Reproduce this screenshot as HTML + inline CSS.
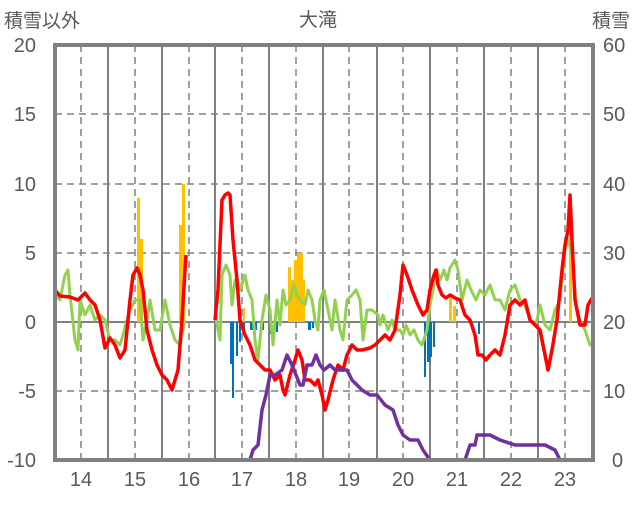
<!DOCTYPE html><html><head><meta charset="utf-8"><style>body{margin:0;background:#fff}</style></head><body>
<svg width="636" height="501" viewBox="0 0 636 501" xmlns="http://www.w3.org/2000/svg" font-family="Liberation Sans, Noto Sans CJK JP, sans-serif">
<rect width="636" height="501" fill="#fff"/>
<g stroke="#808080" stroke-width="1.5" stroke-dasharray="7,5">
<line x1="55" x2="593" y1="114" y2="114"/><line x1="55" x2="593" y1="184" y2="184"/><line x1="55" x2="593" y1="253" y2="253"/><line x1="55" x2="593" y1="391" y2="391"/>
<line x1="81" x2="81" y1="45" y2="460"/><line x1="135" x2="135" y1="45" y2="460"/><line x1="189" x2="189" y1="45" y2="460"/><line x1="242" x2="242" y1="45" y2="460"/><line x1="296" x2="296" y1="45" y2="460"/><line x1="349" x2="349" y1="45" y2="460"/><line x1="403" x2="403" y1="45" y2="460"/><line x1="457" x2="457" y1="45" y2="460"/><line x1="511" x2="511" y1="45" y2="460"/><line x1="565" x2="565" y1="45" y2="460"/>
</g>
<g stroke="#808080" stroke-width="2">
<line x1="108" x2="108" y1="45" y2="460"/><line x1="162" x2="162" y1="45" y2="460"/><line x1="215" x2="215" y1="45" y2="460"/><line x1="269" x2="269" y1="45" y2="460"/><line x1="323" x2="323" y1="45" y2="460"/><line x1="377" x2="377" y1="45" y2="460"/><line x1="430" x2="430" y1="45" y2="460"/><line x1="484" x2="484" y1="45" y2="460"/><line x1="538" x2="538" y1="45" y2="460"/>
<line x1="55" x2="593" y1="322" y2="322"/>
</g>
<g fill="#FFC000">
<rect x="137" y="198" width="3" height="124"/><rect x="140" y="239" width="3" height="83"/>
<rect x="179" y="225" width="3" height="97"/><rect x="182" y="184" width="3" height="138"/>
<rect x="288" y="267" width="3" height="55"/><rect x="291" y="280" width="3" height="42"/><rect x="294" y="260" width="3" height="62"/><rect x="297" y="253" width="3" height="69"/><rect x="300" y="253" width="3" height="69"/><rect x="303" y="280" width="2" height="42"/>
<rect x="243" y="308" width="2" height="14"/><rect x="449" y="298" width="3" height="24"/><rect x="453" y="306" width="3" height="16"/><rect x="569" y="198" width="3" height="124"/>
</g>
<g fill="#0070C0">
<rect x="230" y="322" width="3" height="42"/><rect x="232" y="322" width="2" height="76"/><rect x="236" y="322" width="2" height="34"/><rect x="239" y="322" width="2" height="20"/><rect x="243" y="322" width="2" height="10"/><rect x="250" y="322" width="3" height="8"/><rect x="255" y="322" width="2" height="8"/><rect x="262" y="322" width="2" height="8"/><rect x="270" y="322" width="2" height="12"/><rect x="276" y="322" width="2" height="10"/><rect x="308" y="322" width="3" height="8"/><rect x="312" y="322" width="2" height="6"/>
<rect x="424" y="322" width="2" height="55"/><rect x="427" y="322" width="3" height="40"/><rect x="430" y="322" width="2" height="35"/><rect x="433" y="322" width="2" height="25"/><rect x="478" y="322" width="2" height="12"/>
</g>
<g fill="none" stroke-width="3.5" stroke-linejoin="round">
<polyline stroke="#92D050" stroke-width="3" points="55,295 60,300 65,275 68,270 70,295 75,340 78,350 80,300 85,315 90,305 95,320 100,315 105,320 110,340 115,340 120,345 123,335 127,320 130,310 135,300 140,300 143,340 147,320 150,300 155,330 160,330 165,300 170,325 175,340 180,345 185,320"/>
<polyline stroke="#92D050" stroke-width="3" points="215,310 218,330 220,340 222,275 226,265 230,275 232,305 235,280 240,290 245,275 248,290 252,300 255,340 258,360 262,320 266,295 270,310 273,345 277,300 280,325 283,290 286,305 290,300 294,285 297,295 300,300 305,305 308,290 312,300 315,320 318,330 320,300 324,290 328,310 332,330 335,300 340,330 343,340 347,300 352,295 356,290 360,300 363,340 367,310 372,310 378,315 380,325 383,315 388,330 392,320 395,330 400,330 403,335 406,325 410,335 414,330 418,340 422,345 427,330 430,305 434,285 437,270 440,280 444,270 447,280 450,268 455,260 458,270 462,300 467,280 471,290 476,300 480,290 485,295 490,285 495,300 500,300 505,310 510,290 515,285 520,300 525,305 530,320 536,325 540,305 545,325 550,330 555,310 560,300 565,250 568,240 572,255 576,305 580,320 585,330 590,345 593,345"/>
<polyline stroke="#FF0000" points="55,290 60,296 70,297 78,300 85,293 90,300 95,305 100,320 105,348 110,338 115,345 120,358 125,350 130,300 133,275 137,268 140,275 143,290 147,330 152,350 157,365 162,375 167,380 172,390 178,370 182,320 185,270 186,255"/>
<polyline stroke="#FF0000" points="215,320 218,290 222,200 225,195 228,193 230,195 233,240 237,280 240,320 245,335 250,345 255,360 260,365 265,370 270,370 275,380 280,375 283,390 285,395 290,375 295,360 298,350 302,360 305,380 310,380 315,385 318,380 322,395 325,410 328,400 333,380 338,365 343,370 347,355 352,345 357,350 362,350 370,348 375,345 380,340 385,335 390,340 395,330 400,295 403,265 407,275 412,290 418,305 423,315 427,310 430,290 434,275 436,270 438,285 442,295 446,298 450,295 455,298 460,300 465,315 470,320 475,335 478,355 482,355 486,360 490,355 495,350 500,355 505,335 510,305 515,300 520,305 525,300 530,320 540,330 545,355 548,370 552,350 557,320 562,270 565,245 568,230 570,195 572,240 575,300 580,325 585,325 588,305 592,298"/>
<polyline stroke="#7030A0" points="55,460 250,460 253,450 258,445 262,410 266,395 270,375 275,375 282,370 287,355 292,365 298,380 300,385 303,385 307,365 312,365 316,355 320,365 324,370 330,365 335,370 347,370 352,380 357,385 362,390 370,395 377,395 385,405 393,410 398,425 403,435 410,440 418,440 423,450 430,460 465,460 470,445 475,445 477,435 490,435 500,440 515,445 545,445 555,450 560,460 593,460"/>
</g>
<rect x="55" y="45" width="538" height="415" fill="none" stroke="#808080" stroke-width="4"/>
<g fill="#595959" font-size="20" text-anchor="end">
<text x="36" y="52">20</text><text x="36" y="121">15</text><text x="36" y="191">10</text><text x="36" y="260">5</text><text x="36" y="329">0</text><text x="36" y="398">-5</text><text x="36" y="467">-10</text>
</g>
<g fill="#595959" font-size="20" text-anchor="start">
<text x="603" y="52">60</text><text x="603" y="121">50</text><text x="603" y="191">40</text><text x="603" y="260">30</text><text x="603" y="329">20</text><text x="603" y="398">10</text><text x="612" y="467">0</text>
</g>
<g fill="#595959" font-size="20" text-anchor="middle">
<text x="81" y="486">14</text><text x="135" y="486">15</text><text x="189" y="486">16</text><text x="242" y="486">17</text><text x="296" y="486">18</text><text x="349" y="486">19</text><text x="403" y="486">20</text><text x="457" y="486">21</text><text x="511" y="486">22</text><text x="565" y="486">23</text>
<text x="318" y="26" font-size="19">大滝</text>
</g>
<text x="4" y="27" fill="#595959" font-size="19">積雪以外</text>
<text x="592" y="27" fill="#595959" font-size="19">積雪</text>
</svg>
</body></html>
